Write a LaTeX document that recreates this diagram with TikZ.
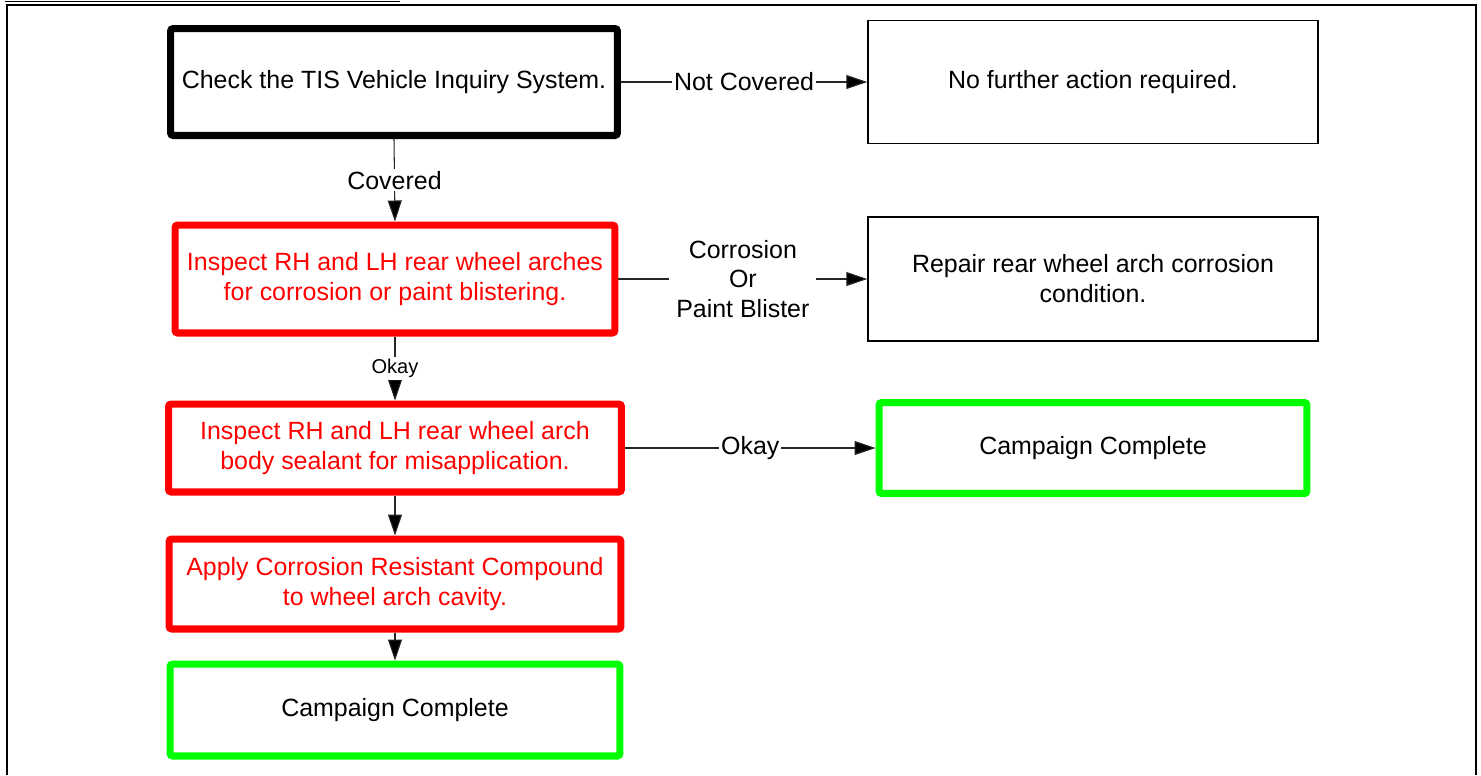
\documentclass[tikz,border=0pt]{standalone}
\usepackage{fontspec}
\setmainfont{Liberation Sans}
\usetikzlibrary{arrows.meta}

\begin{document}
\begin{tikzpicture}[x=0.02cm,y=-0.02cm,
		every node/.style={font=\fontsize{14.2pt}{17pt}\selectfont},
		thickbox/.style={draw,line width=4pt,rounded corners=1.5pt,align=center,inner sep=0pt},
		thinbox/.style={draw,line width=0.9pt,align=center,inner sep=0pt},
		redbox/.style={thickbox,draw=red,text=red},
		greenbox/.style={thickbox,draw=green},
		flow/.style={line width=0.6pt,draw=black!85,-{Triangle[length=0.42cm,width=0.28cm,fill=black]}},
		lbl/.style={fill=white,inner sep=1pt}]
		\useasboundingbox (0,0) rectangle (1481,775);
		\draw[line width=0.8pt] (5,1.5)--(400,1.5);
		\draw[line width=1.2pt] (7,775)--(7,5)--(1476,5)--(1476,775);
		
		% left column
		\node[thickbox,minimum width=8.94cm,minimum height=2.14cm] (check) at (394,82) {Check the TIS Vehicle Inquiry System.};
		\node[redbox,minimum width=8.8cm,minimum height=2.16cm] (inspectarch) at (395,279) {Inspect RH and LH rear wheel arches\\for corrosion or paint blistering.};
		\node[redbox,minimum width=9.06cm,minimum height=1.76cm] (inspectseal) at (395,448) {Inspect RH and LH rear wheel arch\\body sealant for misapplication.};
		\node[redbox,minimum width=9.04cm,minimum height=1.8cm] (apply) at (395,584) {Apply Corrosion Resistant Compound\\to wheel arch cavity.};
		\node[greenbox,minimum width=9.0cm,minimum height=1.84cm] (campbottom) at (395,710) {Campaign Complete};
		
		% right column
		\node[thinbox,minimum width=9.0cm,minimum height=2.46cm] (nofurther) at (1093,82) {No further action required.};
		\node[thinbox,minimum width=9.0cm,minimum height=2.48cm] (repair) at (1093,279) {Repair rear wheel arch corrosion\\condition.};
		\node[greenbox,minimum width=8.56cm,minimum height=1.82cm] (campright) at (1093,448) {Campaign Complete};
		
		\draw[flow] (check.east)--node[lbl]{Not Covered}(nofurther.west);
		\draw[flow] (check.south)--node[lbl]{Covered}(inspectarch.north);
		\draw[flow] (inspectarch.east)--node[lbl,inner sep=4pt,align=center]{Corrosion\\Or\\Paint Blister}(repair.west);
		\draw[flow] (inspectarch.south)--node[lbl,font=\fontsize{11.4pt}{13pt}\selectfont]{Okay}(inspectseal.north);
		\draw[flow] (inspectseal.east)--node[lbl]{Okay}(campright.west);
		\draw[flow] (inspectseal.south)--(apply.north);
		\draw[flow] (apply.south)--(campbottom.north);
	\end{tikzpicture}
\end{document}
